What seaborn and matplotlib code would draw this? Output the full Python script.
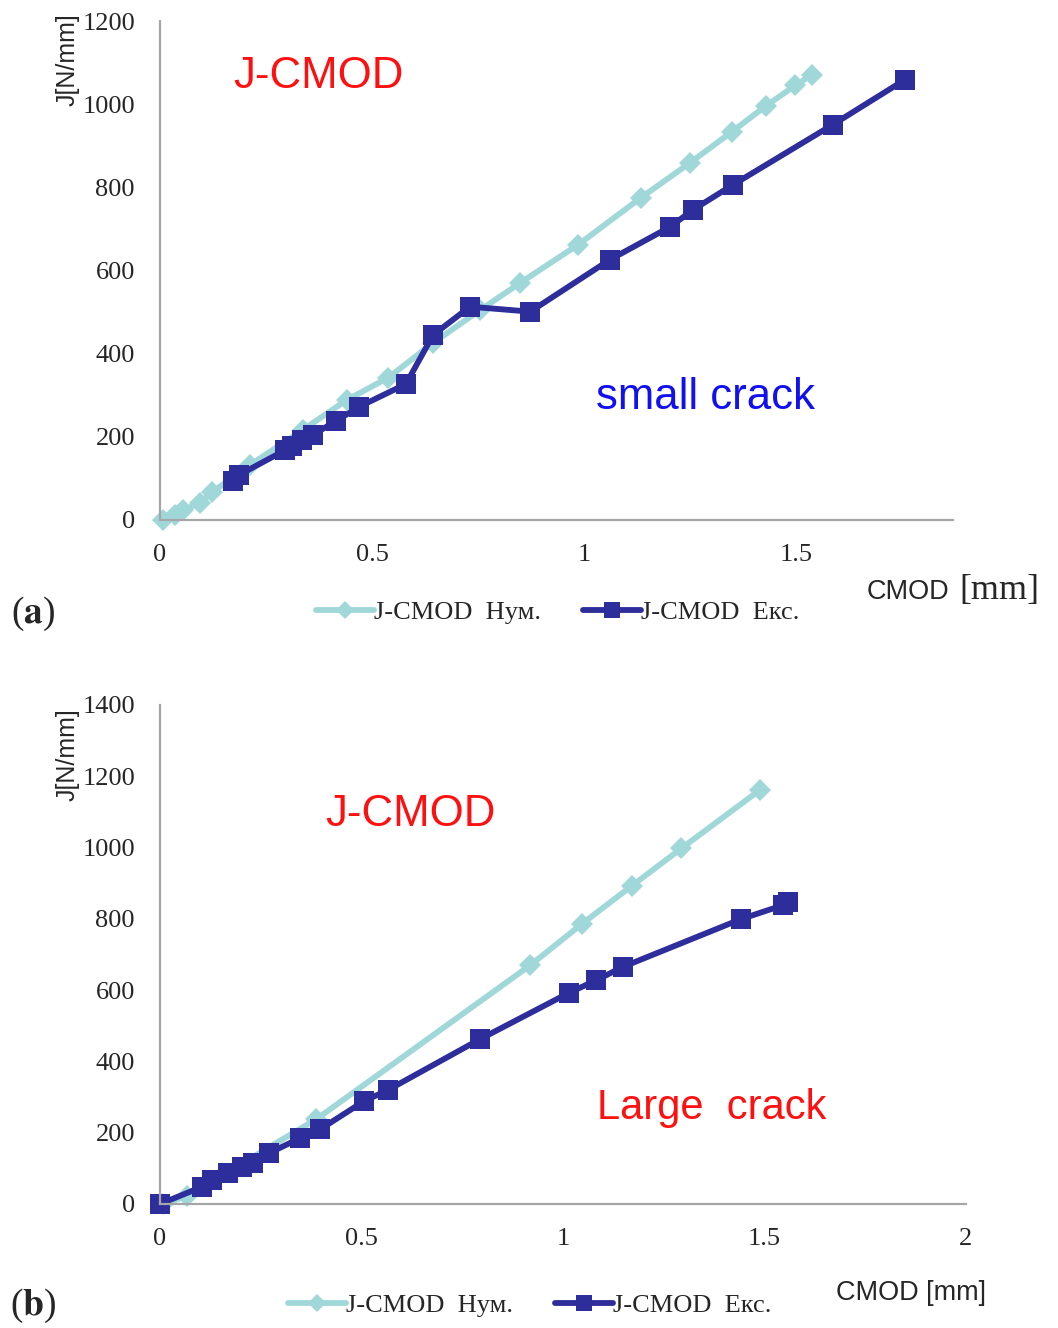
import numpy as np
import pandas as pd
import matplotlib
matplotlib.use('Agg')
import matplotlib.pyplot as plt
import seaborn as sns

# panel (a) - small crack
a_num_x = [0.007, 0.035, 0.054, 0.094, 0.123, 0.212, 0.337, 0.441, 0.538, 0.644, 0.755, 0.849, 0.986, 1.134, 1.25, 1.349, 1.429, 1.498, 1.538]
a_num_y = [0, 12, 24, 41, 67, 132, 217, 289, 342, 426, 505, 570, 662, 775, 859, 934, 996, 1045, 1071]
a_exp_x = [0.172, 0.186, 0.295, 0.311, 0.335, 0.361, 0.415, 0.469, 0.580, 0.644, 0.731, 0.873, 1.061, 1.203, 1.257, 1.351, 1.587, 1.757]
a_exp_y = [94, 108, 168, 178, 193, 205, 238, 272, 327, 445, 513, 501, 626, 705, 746, 806, 951, 1059]

# panel (b) - large crack
b_num_x = [0.007, 0.067, 0.388, 0.919, 1.046, 1.170, 1.294, 1.488]
b_num_y = [0, 22, 238, 670, 785, 892, 998, 1161]
b_exp_x = [0, 0.104, 0.129, 0.169, 0.204, 0.231, 0.271, 0.348, 0.398, 0.507, 0.566, 0.795, 1.014, 1.083, 1.148, 1.441, 1.545, 1.558]
b_exp_y = [0, 48, 67, 87, 104, 115, 143, 185, 210, 289, 320, 463, 592, 628, 665, 799, 838, 847]

lbl_num = 'J-CMOD  Нум.'
lbl_exp = 'J-CMOD  Екс.'
c_num = '#A0D8DA'
c_exp = '#2D2D9C'

sns.set_style('white')
plt.rcParams['font.family'] = ['Liberation Serif', 'DejaVu Serif']
plt.rcParams['mathtext.fontset'] = 'stix'

W, H = 1058, 1328
fig = plt.figure(figsize=(W / 100, H / 100), dpi=100)
ax1 = fig.add_axes([160 / W, 1 - 520 / H, (953 - 160) / W, (520 - 21) / H])
ax2 = fig.add_axes([160 / W, 1 - 1204 / H, (966 - 160) / W, (1204 - 705) / H])


def draw(ax, nx, ny, ex, ey):
    sns.lineplot(x=nx, y=ny, ax=ax, color=c_num, lw=4.2, marker='D', markersize=11,
                 markeredgewidth=0, sort=False, estimator=None, label=lbl_num, clip_on=False)
    sns.lineplot(x=ex, y=ey, ax=ax, color=c_exp, lw=4.2, marker='s', markersize=15,
                 markeredgewidth=0, sort=False, estimator=None, label=lbl_exp, clip_on=False)
    for s in ['top', 'right']:
        ax.spines[s].set_visible(False)
    for s in ['left', 'bottom']:
        ax.spines[s].set_color('#A6A6A6')
        ax.spines[s].set_linewidth(1.6)
    ax.tick_params(length=0, labelsize=19)
    ax.tick_params(axis='y', pad=18)
    ax.tick_params(axis='x', pad=17)
    ax.get_legend().remove()


draw(ax1, a_num_x, a_num_y, a_exp_x, a_exp_y)
ax1.set_xlim(0, 1.87)
ax1.set_ylim(0, 1200)
ax1.set_xticks([0, 0.5, 1, 1.5])
ax1.set_xticklabels(['0', '0.5', '1', '1.5'])
ax1.set_yticks(np.arange(0, 1201, 200))

draw(ax2, b_num_x, b_num_y, b_exp_x, b_exp_y)
ax2.set_xlim(0, 2)
ax2.set_ylim(0, 1400)
ax2.set_xticks([0, 0.5, 1, 1.5, 2])
ax2.set_xticklabels(['0', '0.5', '1', '1.5', '2'])
ax2.set_yticks(np.arange(0, 1401, 200))

sans = ['Liberation Sans', 'DejaVu Sans']

# annotations
fig.text(68 / W, 1 - 60 / H, 'J[N/mm]', rotation=90, ha='center', va='center', family=sans, fontsize=18)
fig.text(68 / W, 1 - 755 / H, 'J[N/mm]', rotation=90, ha='center', va='center', family=sans, fontsize=18)
fig.text(318 / W, 1 - 77 / H, 'J-CMOD', color='#FF1010', ha='center', va='center', family=sans, fontsize=31.5)
fig.text(705 / W, 1 - 397 / H, 'small crack', color='#1010F0', ha='center', va='center', family=sans, fontsize=31.5)
fig.text(410 / W, 1 - 815 / H, 'J-CMOD', color='#FF1010', ha='center', va='center', family=sans, fontsize=31.5)
fig.text(712 / W, 1 - 1108 / H, 'Large  crack', color='#FF1010', ha='center', va='center', family=sans, fontsize=30)

fig.text(908 / W, 1 - 592 / H, 'CMOD', ha='center', va='center', family=sans, fontsize=19.5)
fig.text(999 / W, 1 - 590 / H, '[mm]', ha='center', va='center', fontsize=26)
fig.text(911 / W, 1 - 1293 / H, 'CMOD [mm]', ha='center', va='center', family=sans, fontsize=19.5)

fig.text(33 / W, 1 - 614 / H, r'($\mathbf{a}$)', ha='center', va='center', fontsize=27)
fig.text(33 / W, 1 - 1306 / H, r'($\mathbf{b}$)', ha='center', va='center', fontsize=27)

for ax, anchor in [(ax1, (558 / W, 1 - 612 / H)), (ax2, (530 / W, 1 - 1305 / H))]:
    h, l = ax.get_legend_handles_labels()
    fig.legend(h, l, loc='center', bbox_to_anchor=anchor, ncol=2, frameon=False,
               fontsize=19, handlelength=2.2, columnspacing=1.6, handletextpad=0.0,
               markerscale=0.8)

fig.savefig('out.png', dpi=100)
